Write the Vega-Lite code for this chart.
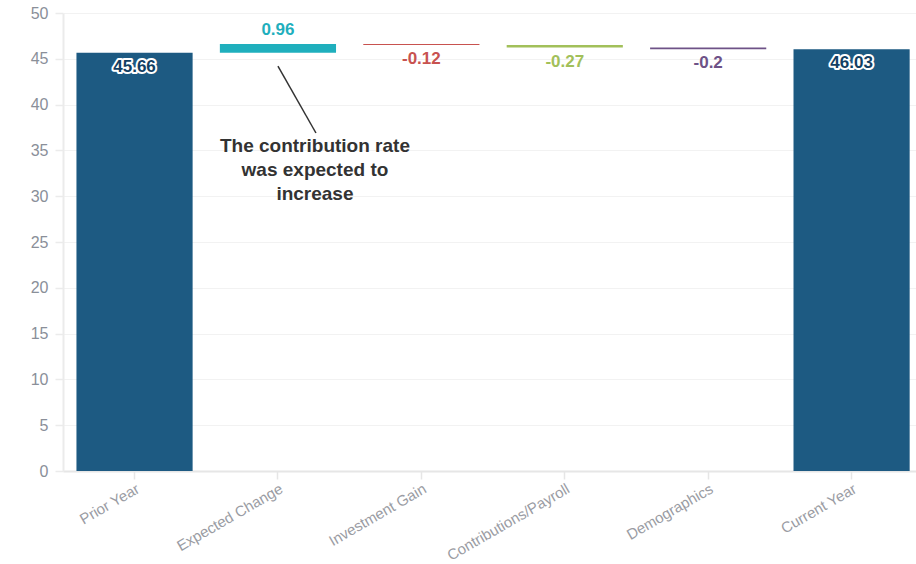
{
  "$schema": "https://vega.github.io/schema/vega-lite/v6.json",
  "width": 853,
  "height": 458,
  "padding": {"left": 30, "top": 5, "right": 0, "bottom": 0},
  "autosize": {"type": "pad"},
  "background": "white",
  "config": {
    "view": {"stroke": null},
    "font": "Liberation Sans",
    "axis": {"labelFont": "Liberation Sans", "titleFont": "Liberation Sans"}
  },
  "datasets": {
    "steps": [
      {"cat": "Prior Year", "start": 0, "end": 45.66, "label": "45.66", "kind": "total"},
      {"cat": "Expected Change", "start": 45.66, "end": 46.62, "label": "0.96", "kind": "up"},
      {"cat": "Investment Gain", "start": 46.62, "end": 46.5, "label": "-0.12", "kind": "down"},
      {"cat": "Contributions/Payroll", "start": 46.5, "end": 46.23, "label": "-0.27", "kind": "down"},
      {"cat": "Demographics", "start": 46.23, "end": 46.03, "label": "-0.2", "kind": "down"},
      {"cat": "Current Year", "start": 0, "end": 46.03, "label": "46.03", "kind": "total"}
    ],
    "note": [
      {"cat": "Expected Change", "y1": 44.2, "y2": 36.9, "ty": 36.5, "text": "The contribution rate\nwas expected to\nincrease"}
    ]
  },
  "encoding": {
    "x": {
      "field": "cat",
      "type": "nominal",
      "scale": {
        "domain": ["Prior Year", "Expected Change", "Investment Gain", "Contributions/Payroll", "Demographics", "Current Year"],
        "paddingInner": 0.19,
        "paddingOuter": 0.069,
        "align": 0.68
      },
      "axis": {
        "title": null,
        "labelAngle": -30,
        "labelAlign": "right",
        "labelBaseline": "top",
        "labelColor": "#9a9ca3",
        "labelFontSize": 15,
        "labelPadding": 2,
        "tickColor": "#e6e6e6",
        "tickSize": 8,
        "tickWidth": 1.5,
        "domainColor": "#e6e6e6",
        "domainWidth": 2,
        "grid": false
      }
    }
  },
  "layer": [
    {
      "data": {"name": "steps"},
      "mark": {"type": "bar"},
      "encoding": {
        "y": {
          "field": "start",
          "type": "quantitative",
          "scale": {"domain": [0, 50], "nice": false},
          "axis": {
            "title": null,
            "values": [0, 5, 10, 15, 20, 25, 30, 35, 40, 45, 50],
            "labelColor": "#8a8f99",
            "labelFontSize": 16,
            "labelPadding": 7,
            "tickColor": "#ebebeb",
            "tickSize": 8,
            "tickWidth": 1.5,
            "domainColor": "#ebebeb",
            "domainWidth": 2,
            "gridColor": "#f2f2f2",
            "gridWidth": 1
          }
        },
        "y2": {"field": "end"},
        "color": {
          "field": "cat",
          "type": "nominal",
          "legend": null,
          "scale": {
            "domain": ["Prior Year", "Expected Change", "Investment Gain", "Contributions/Payroll", "Demographics", "Current Year"],
            "range": ["#1d5a82", "#1fafbd", "#c8524f", "#a2c05a", "#6e5287", "#1d5a82"]
          }
        }
      }
    },
    {
      "data": {"name": "steps"},
      "transform": [{"filter": "datum.kind === 'total'"}],
      "mark": {"type": "text", "dy": 14, "baseline": "middle", "fontSize": 17, "fontWeight": "bold", "stroke": "white", "strokeWidth": 4, "strokeJoin": "round", "color": "white"},
      "encoding": {"y": {"field": "end", "type": "quantitative"}, "text": {"field": "label"}}
    },
    {
      "data": {"name": "steps"},
      "transform": [{"filter": "datum.kind === 'total'"}],
      "mark": {"type": "text", "dy": 14, "baseline": "middle", "fontSize": 17, "fontWeight": "bold", "color": "#123f63"},
      "encoding": {"y": {"field": "end", "type": "quantitative"}, "text": {"field": "label"}}
    },
    {
      "data": {"name": "steps"},
      "transform": [{"filter": "datum.kind === 'up'"}],
      "mark": {"type": "text", "dy": -14, "baseline": "middle", "fontSize": 17, "fontWeight": "bold"},
      "encoding": {"y": {"field": "end", "type": "quantitative"}, "text": {"field": "label"}, "color": {"field": "cat", "type": "nominal", "legend": null}}
    },
    {
      "data": {"name": "steps"},
      "transform": [{"filter": "datum.kind === 'down'"}],
      "mark": {"type": "text", "dy": 14, "baseline": "middle", "fontSize": 17, "fontWeight": "bold"},
      "encoding": {"y": {"field": "end", "type": "quantitative"}, "text": {"field": "label"}, "color": {"field": "cat", "type": "nominal", "legend": null}}
    },
    {
      "data": {"name": "note"},
      "mark": {"type": "rule", "color": "#333333", "strokeWidth": 1.5, "x2Offset": 38},
      "encoding": {"x2": {"field": "cat"}, "y": {"field": "y1", "type": "quantitative"}, "y2": {"field": "y2"}}
    },
    {
      "data": {"name": "note"},
      "mark": {"type": "text", "xOffset": 37, "baseline": "top", "align": "center", "fontSize": 19, "fontWeight": "bold", "color": "#333333", "lineBreak": "\n", "lineHeight": 24},
      "encoding": {"y": {"field": "ty", "type": "quantitative"}, "text": {"field": "text"}}
    }
  ]
}
